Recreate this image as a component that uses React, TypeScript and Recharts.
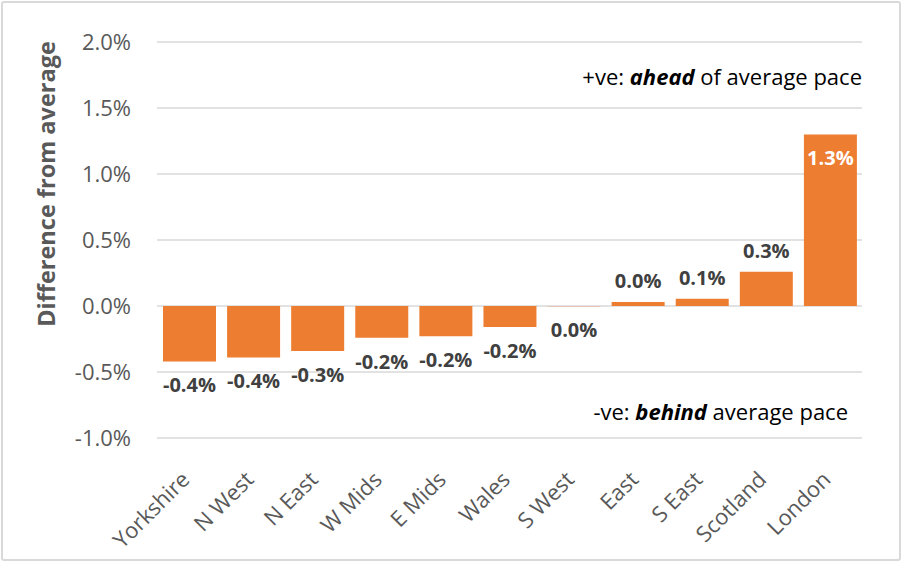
import { BarChart, Bar, XAxis, YAxis, CartesianGrid, LabelList } from 'recharts';

const regions = ['Yorkshire', 'N West', 'N East', 'W Mids', 'E Mids', 'Wales', 'S West', 'East', 'S East', 'Scotland', 'London'];
const diffs = [-0.42, -0.39, -0.34, -0.24, -0.23, -0.16, -0.001, 0.03, 0.055, 0.26, 1.3];
const yTicks = [-1.0, -0.5, 0.0, 0.5, 1.0, 1.5, 2.0];

const data = regions.map((region, i) => ({ region, diff: diffs[i] }));

const FONT = '"Open Sans", "Noto Sans", sans-serif';
const ORANGE = '#ED7D31';

const XTick = ({ x, y, payload }: any) => (
  <text
    x={x + 2}
    y={y + 35}
    transform={`rotate(-45, ${x + 2}, ${y + 35})`}
    textAnchor="end"
    fontFamily={FONT}
    fontSize={22}
    fill="#595959"
  >
    {payload.value}
  </text>
);

const BarValue = (props: any) => {
  const { x, y, width, height, value, index } = props;
  const top = Math.min(y, y + height);
  const bottom = Math.max(y, y + height);
  const cx = x + width / 2;
  const last = index === diffs.length - 1;
  let ty = value < 0 ? bottom + 31 : top - 14;
  if (last) ty = top + 31;
  return (
    <text
      x={cx}
      y={ty}
      textAnchor="middle"
      fontFamily={FONT}
      fontSize={20}
      fontWeight={700}
      fill={last ? '#ffffff' : '#404040'}
    >
      {`${Math.abs(value) < 0.05 ? '0.0' : value.toFixed(1)}%`}
    </text>
  );
};

export default function App() {
  return (
    <div
      style={{
        position: 'absolute',
        left: 0,
        top: 0,
        width: 904,
        height: 562,
        background: '#fff',
        fontFamily: FONT,
      }}
    >
      <div
        style={{
          position: 'absolute',
          left: 1,
          top: 1,
          width: 900,
          height: 560,
          border: '2px solid #d9d9d9',
          borderRadius: 3,
          boxSizing: 'border-box',
        }}
      />
      <BarChart
        width={904}
        height={562}
        data={data}
        margin={{ top: 42, right: 42, left: 0, bottom: 0 }}
        barSize={53}
      >
        <CartesianGrid vertical={false} stroke="#d9d9d9" strokeWidth={1.5} />
        <XAxis
          dataKey="region"
          height={124}
          axisLine={false}
          tickLine={false}
          interval={0}
          tick={<XTick />}
        />
        <YAxis
          width={157}
          domain={[-1, 2]}
          ticks={yTicks}
          axisLine={false}
          tickLine={false}
          tickMargin={20}
          tickFormatter={(v: number) => `${v.toFixed(1)}%`}
          tick={{ fontFamily: FONT, fontSize: 22, fill: '#595959' }}
        />
        <Bar dataKey="diff" fill={ORANGE} isAnimationActive={false}>
          <LabelList dataKey="diff" content={<BarValue />} />
        </Bar>
      </BarChart>
      <div
        style={{
          position: 'absolute',
          left: 46,
          top: 184,
          transform: 'translate(-50%, -50%) rotate(-90deg)',
          whiteSpace: 'nowrap',
          fontSize: 23.5,
          fontWeight: 700,
          color: '#595959',
        }}
      >
        Difference from average
      </div>
      <div
        style={{
          position: 'absolute',
          right: 904 - 862,
          top: 61,
          whiteSpace: 'nowrap',
          fontSize: 22,
          color: '#000',
        }}
      >
        +ve: <b><i>ahead</i></b> of average pace
      </div>
      <div
        style={{
          position: 'absolute',
          right: 904 - 848,
          top: 396,
          whiteSpace: 'nowrap',
          fontSize: 22,
          color: '#000',
        }}
      >
        -ve: <b><i>behind</i></b> average pace
      </div>
    </div>
  );
}
